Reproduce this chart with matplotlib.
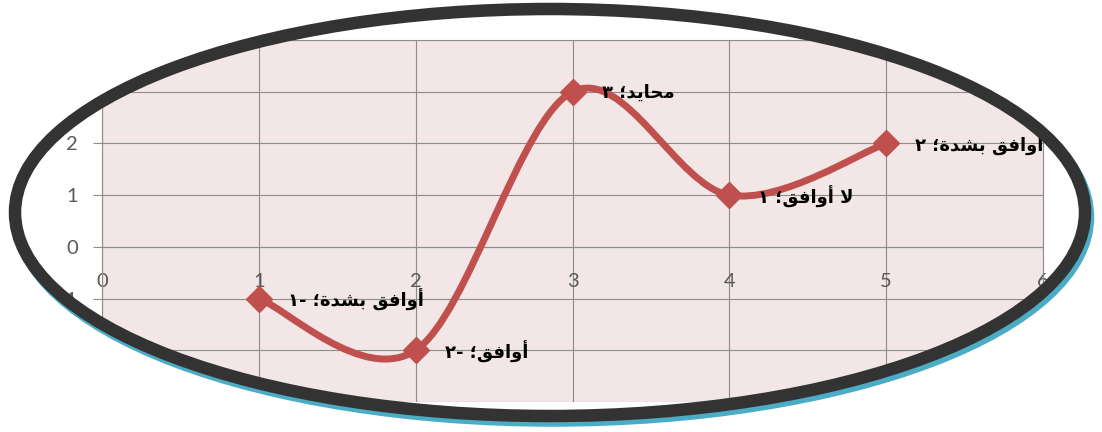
import numpy as np
import matplotlib
matplotlib.use('Agg')
import matplotlib.pyplot as plt
from matplotlib.path import Path
from matplotlib.patches import PathPatch, Ellipse

W, H = 1102, 432

# data
categories = ['أوافق بشدة', 'أوافق', 'محايد', 'لا أوافق', 'أوافق بشدة']
x_vals = [1, 2, 3, 4, 5]
y_vals = [-1, -2, 3, 1, 2]
x_ticks = [0, 1, 2, 3, 4, 5, 6]
y_ticks = [-3, -2, -1, 0, 1, 2, 3, 4]

red = '#c0504d'
grid_c = '#8c8c8c'
AR_DIGITS = str.maketrans('0123456789', '٠١٢٣٤٥٦٧٨٩')

# presentation forms: isolated, final, initial, medial
FORMS = {
    'ا': ('\ufe8d', '\ufe8e', None, None),
    'أ': ('\ufe83', '\ufe84', None, None),
    'و': ('\ufeed', '\ufeee', None, None),
    'د': ('\ufea9', '\ufeaa', None, None),
    'ة': ('\ufe93', '\ufe94', None, None),
    'ف': ('\ufed1', '\ufed2', '\ufed3', '\ufed4'),
    'ق': ('\ufed5', '\ufed6', '\ufed7', '\ufed8'),
    'ب': ('\ufe8f', '\ufe90', '\ufe91', '\ufe92'),
    'ش': ('\ufeb5', '\ufeb6', '\ufeb7', '\ufeb8'),
    'م': ('\ufee1', '\ufee2', '\ufee3', '\ufee4'),
    'ح': ('\ufea1', '\ufea2', '\ufea3', '\ufea4'),
    'ي': ('\ufef1', '\ufef2', '\ufef3', '\ufef4'),
    'ل': ('\ufedd', '\ufede', '\ufedf', '\ufee0'),
}


def shape_ar(s):
    # matplotlib has no arabic shaping / bidi, do it by hand
    out = []
    i = 0
    while i < len(s):
        c = s[i]
        prev = s[i - 1] if i > 0 else ''
        prev_j = prev in FORMS and FORMS[prev][2] is not None
        if c == 'ل' and i + 1 < len(s) and s[i + 1] == 'ا':
            out.append('\ufefc' if prev_j else '\ufefb')
            i += 2
            continue
        if c in FORMS:
            f = FORMS[c]
            nxt = s[i + 1] if i + 1 < len(s) else ''
            next_j = nxt in FORMS and f[2] is not None
            if prev_j and next_j:
                out.append(f[3])
            elif prev_j:
                out.append(f[1])
            elif next_j:
                out.append(f[2])
            else:
                out.append(f[0])
        else:
            out.append(c)
        i += 1
    return ''.join(out)[::-1]


def smooth_path(xs, ys):
    pts = np.column_stack([xs, ys]).astype(float)
    n = len(pts)
    verts = [pts[0]]
    codes = [Path.MOVETO]
    for i in range(n - 1):
        p0 = pts[max(i - 1, 0)]
        p1 = pts[i]
        p2 = pts[i + 1]
        p3 = pts[min(i + 2, n - 1)]
        verts += [p1 + (p2 - p0) / 6, p2 - (p3 - p1) / 6, p2]
        codes += [Path.CURVE4] * 3
    return Path(verts, codes)


plt.rcParams['font.family'] = ['Lato', 'DejaVu Sans']

fig = plt.figure(figsize=(W / 100, H / 100), dpi=100)
ax = fig.add_axes([102 / W, 1 - 402 / H, 941 / W, 362 / H])
ax.set_facecolor('#f2e6e6')
ax.set_xlim(0, 6)
ax.set_ylim(-3, 4)
ax.set_xticks(x_ticks)
ax.set_yticks(y_ticks)
ax.grid(True, color=grid_c, lw=0.8)
ax.set_axisbelow(True)
for s in ['top', 'right', 'left', 'bottom']:
    ax.spines[s].set_color(grid_c)
    ax.spines[s].set_linewidth(0.8)
ax.spines['bottom'].set_position(('data', 0))
ax.tick_params(axis='x', length=0, pad=19, labelsize=14.5, labelcolor='#595959')
ax.tick_params(axis='y', length=6.5, width=0.8, color=grid_c, pad=11,
               labelsize=14.5, labelcolor='#595959')

ax.add_patch(PathPatch(smooth_path(x_vals, y_vals), fill=False, ec=red,
                       lw=5, capstyle='round', zorder=3))
ax.plot(x_vals, y_vals, ls='none', marker='D', ms=13, color=red, zorder=4)

for x, y, cat in zip(x_vals, y_vals, categories):
    lab = shape_ar(cat + '؛ ' + str(y).translate(AR_DIGITS))
    ax.annotate(lab, (x, y), xytext=(21, -1), textcoords='offset points',
                ha='left', va='center', fontsize=13, fontweight='bold',
                family='DejaVu Sans', color='black', zorder=5)

# oval frame on top, white outside it
ov = fig.add_axes([0, 0, 1, 1], zorder=10)
ov.set_xlim(0, W)
ov.set_ylim(H, 0)
ov.axis('off')

ell = Ellipse((550, 212.5), 1070, 407)
ell_path = ell.get_patch_transform().transform_path(ell.get_path())
rect = Path([(-10, -10), (-10, H + 10), (W + 10, H + 10), (W + 10, -10), (-10, -10)],
            [Path.MOVETO, Path.LINETO, Path.LINETO, Path.LINETO, Path.CLOSEPOLY])
mask = PathPatch(Path.make_compound_path(rect, ell_path), fc='white', ec='none')
ov.add_patch(mask)
shadow = Ellipse((553, 217), 1070, 407, fill=False, ec='#4bacc6', lw=9)
ov.add_patch(shadow)
shadow.set_clip_path(mask)
ov.add_patch(Ellipse((550, 212.5), 1070, 407, fill=False, ec='#333333', lw=9))

fig.savefig('out.png', dpi=100)
